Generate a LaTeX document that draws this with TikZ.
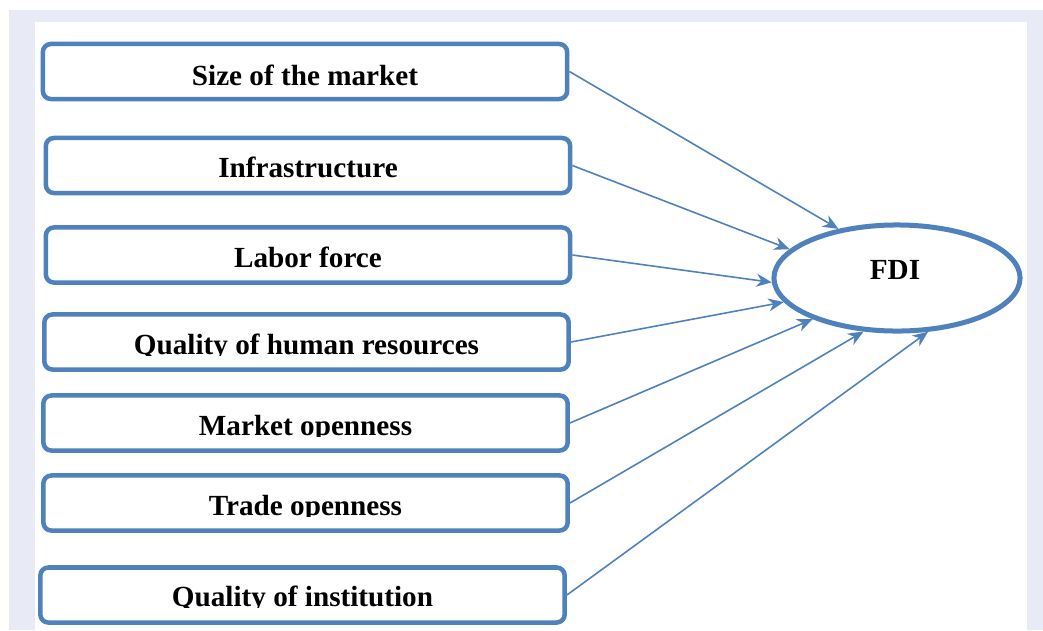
\documentclass[tikz,border=0pt]{standalone}
\usepackage{fontspec}
\setmainfont{Liberation Serif}
\usetikzlibrary{shapes.geometric,arrows.meta}
\definecolor{frameblue}{HTML}{4F81BD}
\definecolor{pagebg}{HTML}{E8EBF6}
\tikzset{
  factor/.style={draw=frameblue, line width=0.045cm, rounded corners=0.08cm,
    minimum width=5.24cm, minimum height=0.55cm, inner sep=0pt, fill=white},
  lbl/.style={font=\bfseries\fontsize{8.3}{10}\selectfont, inner sep=0pt, anchor=base},
  target/.style={draw=frameblue, line width=0.05cm, ellipse, minimum width=2.46cm,
    minimum height=1.06cm, inner sep=0pt, fill=white},
  link/.style={draw=frameblue, line width=0.45pt,
    -{Stealth[length=1.55mm, width=1.3mm, inset=0.5mm]}},
}
% place a factor box with its caption; the caption is cut at the baseline
\newcommand\factorbox[5]{% name, cx, cy, baseline y, text
  \node[factor] (#1) at (#2,#3) {};
  \begin{scope}
    \clip (#1.west |- 0,#4+1.5) rectangle (#1.north east);
    \node[lbl] (#1t) at (#2,#4) {#5};
  \end{scope}
}
\begin{document}
\begin{tikzpicture}[x=0.01cm, y=-0.01cm]
  \useasboundingbox (0,0) rectangle (1043,630);
  \fill[pagebg] (9,10) rectangle (1043,630);
  \fill[white] (35,22) rectangle (1027,630);

  \factorbox{b1}{305}{71.5}{85}{Size of the market}
  \factorbox{b2}{308}{165.5}{177}{Infrastructure}
  \factorbox{b3}{308}{255}{267}{Labor force}
  \factorbox{b4}{306.5}{342}{354}{Quality of human resources}
  \factorbox{b5}{305.5}{423}{435}{Market openness}
  \factorbox{b6}{305.5}{503}{515}{Trade openness}
  \factorbox{b7}{302.5}{595}{606}{Quality of institution}

  \node[target] (fdi) at (897,278) {};
  \node[lbl] (fdit) at (895,279) {FDI};

  \draw[link] (b1.east) -- (fdi.140);
  \draw[link] (b2.east) -- (fdi.165);
  \draw[link] (b3.east) -- (fdi.182);
  \draw[link] (b4.east) -- (fdi.192);
  \draw[link] (b5.east) -- (fdi.206);
  \draw[link] (b6.east) -- (fdi.238);
  \draw[link] (b7.east) -- (fdi.300);
\end{tikzpicture}
\end{document}
